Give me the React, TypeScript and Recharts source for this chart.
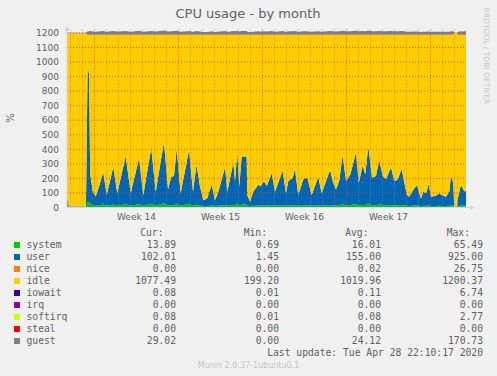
import React from 'react';
import { AreaChart, Area, XAxis, YAxis, ReferenceLine } from 'recharts';

// time in days from the start of week 14
const times = [
  -2.29, -2.13, -0.71, -0.57, -0.45, -0.36, -0.13, 0.1, 0.46, 0.73,
  1.02, 1.57, 1.9, 2.6, 3.02, 3.71, 4.07, 4.73, 5.1, 5.79,
  6.13, 6.38, 6.63, 6.85, 7.18, 7.88, 8.21, 8.5, 8.79, 9.07,
  9.38, 9.77, 10.04, 10.29, 10.88, 11.07, 11.43, 11.57, 11.71, 11.9,
  12.07, 12.27, 12.68, 12.73, 12.96, 13.23, 13.65, 13.85, 14.13, 14.35,
  14.77, 15.04, 15.68, 15.96, 16.15, 16.52, 16.71, 16.98, 17.4, 17.73,
  18.1, 18.65, 18.93, 19.63, 19.9, 20.13, 20.4, 20.68, 20.96, 21.33,
  21.79, 22.02, 22.35, 22.57, 22.82, 23.13, 23.46, 23.73, 24.02, 24.29,
  24.71, 24.98, 25.27, 25.6, 25.82, 26.04, 26.23, 26.65, 26.88, 27.21,
  27.4, 27.63, 27.85, 28.04, 28.46, 28.73, 29.02, 29.29, 29.57, 29.71,
  29.9, 29.98, 30.21, 30.27, 30.54, 30.82, 30.96,
];

const systemVals = [
  12, 3, 3, 40, 38, 30, 15, 12, 15, 20,
  12, 20, 12, 22, 12, 22, 12, 25, 12, 30,
  14, 16, 18, 25, 12, 25, 12, 20, 14, 10,
  10, 14, 10, 12, 18, 12, 16, 18, 15, 22,
  14, 20, 20, 12, 10, 12, 14, 14, 15, 14,
  18, 12, 18, 12, 14, 16, 18, 12, 15, 16,
  12, 16, 12, 18, 14, 13, 15, 22, 15, 17,
  24, 14, 18, 17, 28, 15, 16, 22, 16, 15,
  18, 14, 15, 18, 14, 12, 11, 13, 14, 10,
  12, 12, 14, 11, 11, 12, 11, 11, 12, 16,
  14, 0, 0, 10, 14, 13, 14,
];

const userVals = [
  60, 4, 4, 925, 880, 200, 90, 63, 150, 223,
  74, 258, 86, 331, 86, 315, 74, 384, 97, 418,
  110, 190, 200, 377, 86, 370, 97, 272, 130, 42,
  50, 143, 40, 86, 258, 97, 235, 292, 166, 354,
  132, 331, 331, 74, 30, 97, 143, 132, 166, 132,
  217, 97, 235, 86, 166, 189, 246, 74, 177, 189,
  74, 194, 86, 240, 155, 110, 170, 338, 166, 212,
  354, 155, 269, 212, 391, 189, 200, 304, 200, 177,
  258, 166, 177, 246, 155, 74, 63, 120, 139, 51,
  97, 86, 148, 63, 70, 86, 70, 63, 97, 200,
  155, 0, 0, 51, 143, 97, 102,
];

const idleVals = [
  1126, 1191, 1191, 223, 270, 958, 1083, 1113, 1023, 945,
  1102, 910, 1090, 835, 1090, 851, 1102, 779, 1079, 740,
  1064, 982, 970, 786, 1090, 793, 1079, 896, 1044, 1136,
  1128, 1031, 1138, 1090, 912, 1079, 937, 878, 1007, 812,
  1042, 837, 837, 1102, 1148, 1079, 1031, 1042, 1007, 1042,
  953, 1079, 935, 1090, 1008, 983, 924, 1102, 996, 983,
  1102, 978, 1090, 930, 1019, 1065, 1003, 828, 1007, 959,
  810, 1019, 901, 959, 769, 984, 972, 862, 972, 996,
  912, 1008, 996, 924, 1019, 1102, 1114, 1055, 1035, 1127,
  1079, 1090, 1026, 1114, 1107, 1090, 1107, 1114, 1079, 972,
  1019, 1205, 1205, 1127, 1031, 1078, 1072,
];

const guestVals = [
  4, 4, 4, 22, 24, 26, 22, 20, 24, 26,
  20, 25, 22, 26, 20, 27, 21, 26, 22, 28,
  22, 24, 25, 27, 20, 26, 21, 25, 22, 18,
  19, 23, 18, 20, 25, 21, 24, 26, 23, 27,
  22, 26, 26, 20, 18, 21, 23, 22, 23, 22,
  25, 21, 25, 20, 23, 24, 25, 20, 23, 24,
  20, 24, 20, 25, 23, 22, 23, 27, 23, 24,
  27, 23, 25, 24, 28, 24, 24, 26, 24, 23,
  25, 23, 23, 25, 23, 20, 20, 22, 22, 19,
  21, 20, 22, 20, 20, 21, 20, 20, 21, 24,
  23, 0, 0, 19, 23, 22, 29,
];

const weekTicks = [3.5, 10.5, 17.5, 24.5];
const weekLabels = ['Week 14', 'Week 15', 'Week 16', 'Week 17'];
const weekLines = [0, 7, 14, 21, 28];
const yTicks = [0, 100, 200, 300, 400, 500, 600, 700, 800, 900, 1000, 1100, 1200];

const legendNames = ['system', 'user', 'nice', 'idle', 'iowait', 'irq', 'softirq', 'steal', 'guest'];
const legendColors = ['#00cc00', '#0066b3', '#ff8000', '#ffcc00', '#330099', '#990099', '#ccff00', '#ff0000', '#808080'];
const curVals = ['13.89', '102.01', '0.00', '1077.49', '0.08', '0.00', '0.08', '0.00', '29.02'];
const minVals = ['0.69', '1.45', '0.00', '199.20', '0.01', '0.00', '0.01', '0.00', '0.00'];
const avgVals = ['16.01', '155.00', '0.02', '1019.96', '0.11', '0.00', '0.08', '0.00', '24.12'];
const maxVals = ['65.49', '925.00', '26.75', '1200.37', '6.74', '0.00', '2.77', '0.00', '170.73'];

const data = times.map((t, i) => ({
  t,
  system: systemVals[i],
  user: userVals[i],
  idle: idleVals[i],
  guest: guestVals[i],
}));

// daily minor grid lines (every day that is not a week boundary)
const dayLines = Array.from({ length: 33 }, (_, i) => i - 2).filter((d) => d % 7 !== 0);

const axisColor = '#CFD6F8';
const fontColor = '#606060';
const gridRed = '#f03838';
const mono = '"DejaVu Sans Mono", monospace';
const sans = '"DejaVu Sans", sans-serif';

const colX = [176, 279, 381, 483];
const headX = [163.5, 267, 368.5, 470];

export default function App() {
  return (
    <div style={{ position: 'fixed', left: 0, top: 0, width: 497, height: 376, background: '#f0f0f0', overflow: 'hidden' }}>
      <AreaChart width={497} height={376} data={data} margin={{ top: 28, right: 31, bottom: 148.5, left: 0 }}>
        <XAxis
          type="number"
          dataKey="t"
          domain={[-2.29, 30.96]}
          allowDataOverflow
          ticks={weekTicks}
          interval={0}
          tickFormatter={(v) => weekLabels[weekTicks.indexOf(v)]}
          height={20}
          tickLine={false}
          tickSize={0}
          tickMargin={6.5}
          axisLine={{ stroke: axisColor }}
          tick={{ fill: fontColor, fontSize: 9, fontFamily: sans }}
        />
        <YAxis
          domain={[0, 1234]}
          allowDataOverflow
          ticks={yTicks}
          interval={0}
          width={67}
          tickLine={false}
          tickSize={0}
          tickMargin={8}
          axisLine={{ stroke: axisColor }}
          tick={{ fill: fontColor, fontSize: 9, fontFamily: sans }}
        />
        <Area type="linear" dataKey="system" stackId="cpu" fill="#00cc00" fillOpacity={1} stroke="none" isAnimationActive={false} dot={false} activeDot={false} />
        <Area type="linear" dataKey="user" stackId="cpu" fill="#0066b3" fillOpacity={1} stroke="none" isAnimationActive={false} dot={false} activeDot={false} />
        <Area type="linear" dataKey="idle" stackId="cpu" fill="#ffcc00" fillOpacity={1} stroke="none" isAnimationActive={false} dot={false} activeDot={false} />
        <Area type="linear" dataKey="guest" stackId="cpu" fill="#808080" fillOpacity={1} stroke="none" isAnimationActive={false} dot={false} activeDot={false} />
        {dayLines.map((d) => (
          <ReferenceLine key={'d' + d} x={d} stroke="#909090" strokeOpacity={0.75} strokeDasharray="1 2" />
        ))}
        {weekLines.map((d) => (
          <ReferenceLine key={'w' + d} x={d} stroke={gridRed} strokeOpacity={0.85} strokeDasharray="1 2" />
        ))}
        {yTicks.slice(1).map((v) => (
          <ReferenceLine key={'h' + v} y={v} stroke={gridRed} strokeOpacity={0.85} strokeDasharray="1 2" />
        ))}
      </AreaChart>
      <svg width={497} height={376} style={{ position: 'absolute', left: 0, top: 0, pointerEvents: 'none' }}>
        <text x={248} y={18} textAnchor="middle" fontFamily={sans} fontSize={13} fill={fontColor}>
          CPU usage - by month
        </text>
        <text
          x={486}
          y={56}
          transform="rotate(90 486 56)"
          textAnchor="middle"
          dominantBaseline="central"
          fontFamily={sans}
          fontSize={7.5}
          fill="#c8c8c8"
        >
          RRDTOOL / TOBI OETIKER
        </text>
        <text x={10} y={118} transform="rotate(-90 10 118)" textAnchor="middle" dominantBaseline="central" fontFamily={sans} fontSize={10} fill={fontColor}>
          %
        </text>
        <polygon points="64.5,31 69.5,31 67,26" fill={axisColor} />
        <polygon points="470,205 470,210 475,207.5" fill={axisColor} />
        <line x1={466} y1={207.5} x2={471} y2={207.5} stroke={axisColor} />
        {['Cur:', 'Min:', 'Avg:', 'Max:'].map((h, i) => (
          <text key={h} x={headX[i]} y={232.7} textAnchor="end" dominantBaseline="central" fontFamily={mono} fontSize={9.7} fill={fontColor}>
            {h}
          </text>
        ))}
        {legendNames.map((name, i) => {
          const y = 244.5 + i * 12;
          return (
            <g key={name}>
              <rect x={14} y={y - 2.5} width={6} height={6} fill={legendColors[i]} />
              <text x={26.5} y={y} dominantBaseline="central" fontFamily={mono} fontSize={9.7} fill={fontColor}>
                {name}
              </text>
              {[curVals[i], minVals[i], avgVals[i], maxVals[i]].map((v, j) => (
                <text key={j} x={colX[j]} y={y} textAnchor="end" dominantBaseline="central" fontFamily={mono} fontSize={9.7} fill={fontColor}>
                  {v}
                </text>
              ))}
            </g>
          );
        })}
        <text x={483} y={352.7} textAnchor="end" dominantBaseline="central" fontFamily={mono} fontSize={9.7} fill={fontColor}>
          Last update: Tue Apr 28 22:10:17 2020
        </text>
        <text x={248.5} y={365} textAnchor="middle" dominantBaseline="central" fontFamily={sans} fontSize={8} fill="#c4c4c4">
          Munin 2.0.37-1ubuntu0.1
        </text>
      </svg>
    </div>
  );
}
